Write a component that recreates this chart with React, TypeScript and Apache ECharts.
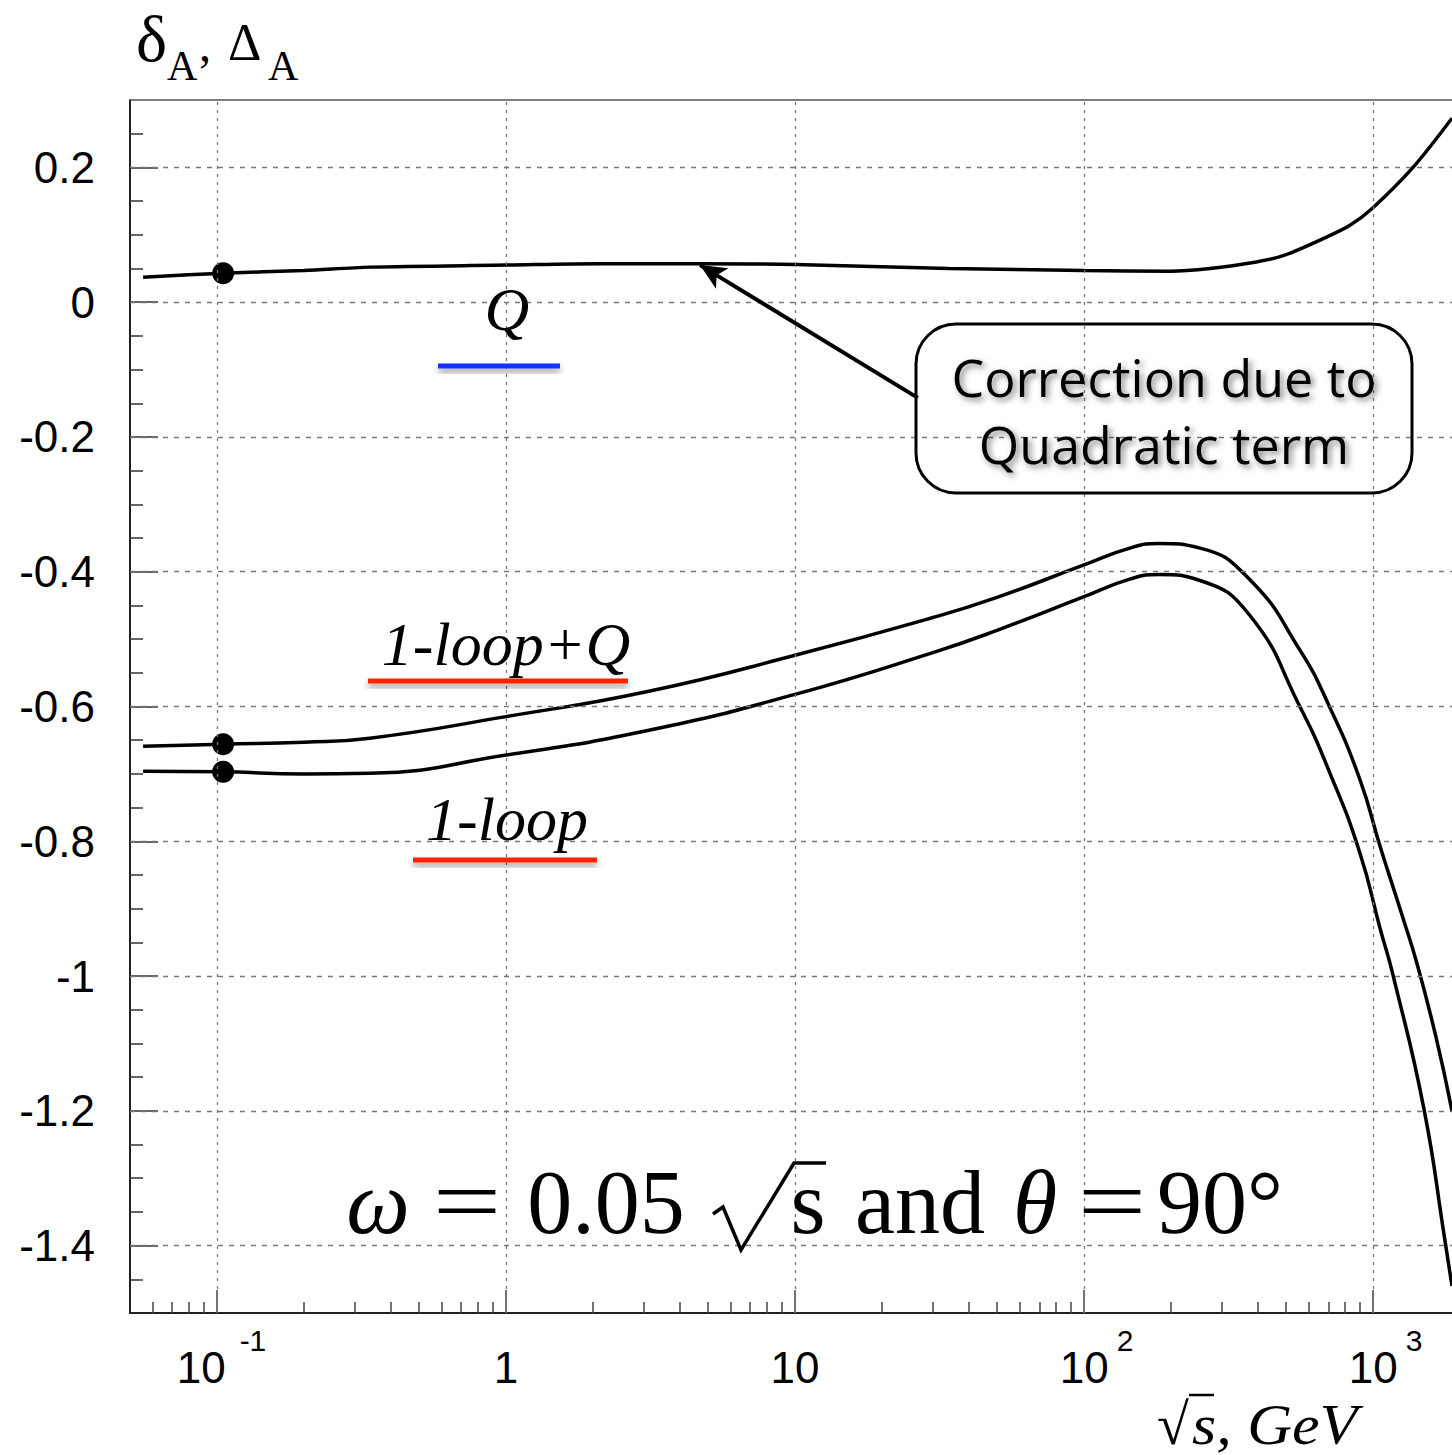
import React, { useEffect, useRef } from "react";
import * as echarts from "echarts";

// ---- axis ranges / ticks ----
const X_MIN = 0.05;
const X_MAX = 1876; // right edge of the visible frame
const Y_MIN = -1.5;
const Y_MAX = 0.3;
const X_DECADES = [0.1, 1, 10, 100, 1000];
const Y_MAJOR = [-1.4, -1.2, -1, -0.8, -0.6, -0.4, -0.2, 0, 0.2];

// ---- curve "Q" (correction due to quadratic term) ----
const Q_S = [0.0555, 0.105, 0.2, 0.338, 1, 2.1, 4.7, 10, 34, 100, 199, 273, 375, 489, 694, 832, 993, 1375, 1876];
const Q_VAL = [0.037, 0.043, 0.047, 0.052, 0.055, 0.057, 0.057, 0.056, 0.05, 0.047, 0.046, 0.05, 0.058, 0.069, 0.097, 0.114, 0.139, 0.2, 0.273];

// ---- curve "1-loop+Q" ----
const LOOPQ_S = [0.0555, 0.105, 0.2, 0.338, 1, 3.15, 10, 30, 50, 100, 144, 182, 252, 375, 558, 708, 900, 1062, 1250, 1427, 1650, 1876];
const LOOPQ_VAL = [-0.659, -0.656, -0.653, -0.647, -0.615, -0.577, -0.524, -0.468, -0.438, -0.39, -0.365, -0.358, -0.365, -0.412, -0.516, -0.601, -0.708, -0.81, -0.905, -0.985, -1.09, -1.2];

// ---- curve "1-loop" ----
const LOOP_S = [0.0555, 0.105, 0.2, 0.338, 1, 3.15, 10, 30, 50, 100, 144, 182, 252, 375, 558, 708, 900, 1062, 1175, 1500, 1770, 1876];
const LOOP_VAL = [-0.696, -0.697, -0.7, -0.699, -0.672, -0.635, -0.582, -0.52, -0.487, -0.437, -0.411, -0.404, -0.413, -0.465, -0.6, -0.698, -0.817, -0.932, -1.0, -1.197, -1.39, -1.46];

// ---- marked points ----
const DOT_S = 0.105;
const DOT_VAL = [0.043, -0.656, -0.697];

// ---- arrow (tail, head) in data units ----
const ARROW_FROM: [number, number] = [26.6, -0.142];
const ARROW_TO: [number, number] = [4.69, 0.055];

const lg = (v: number) => Math.log10(v);

function minorX(): number[] {
  const out: number[] = [];
  for (let e = -2; e <= 3; e++) {
    for (let k = 2; k <= 9; k++) {
      const v = k * Math.pow(10, e);
      if (v > X_MIN + 1e-9 && v < X_MAX - 1e-9) out.push(lg(v));
    }
  }
  return out;
}
function minorY(): number[] {
  const out: number[] = [];
  for (let i = -29; i <= 5; i++) {
    if (i % 4 === 0) continue;
    out.push(Math.round(i * 5) / 100);
  }
  return out;
}

const SERIF = "Liberation Serif";
const SANS = "Liberation Sans";

export default function App() {
  const ref = useRef<HTMLDivElement>(null);
  useEffect(() => {
    if (!ref.current) return;
    const chart = echarts.init(ref.current, undefined, { renderer: "svg" });
    const pairs = (s: number[], v: number[]) => s.map((x, i) => [lg(x), v[i]]);

    const vLines = X_DECADES.map((d) => ({
      xAxis: lg(d),
      lineStyle: { color: "#777", width: 1.3, type: [3, 5] as any },
    }));
    const hLines = Y_MAJOR.map((y) => ({
      yAxis: y,
      lineStyle: { color: "#777", width: 1.3, type: [5, 6] as any },
    }));

    const xLabelFmt = (v: number) => {
      const e = Math.round(v);
      if (e === 0) return "{b|1}";
      if (e === 1) return "{b|10}";
      if (e < 0) return "{pn|}{b|10}{sn|" + e + "}";
      return "{pp|}{b|10}{sp|" + e + "}";
    };

    const serifText = (
      text: string,
      x: number,
      y: number,
      size: number,
      opts: any = {}
    ) => ({
      type: "text",
      x,
      y,
      z: 50,
      scaleX: opts.scaleX || 1,
      originX: 0,
      originY: 0,
      style: {
        text,
        fontFamily: SERIF,
        fontSize: size,
        fontStyle: opts.italic ? "italic" : "normal",
        fill: "#000",
        align: opts.align || "left",
        verticalAlign: "middle",
      },
    });

    const underline = (x1: number, x2: number, y: number, color: string) => ({
      type: "rect",
      z: 50,
      shape: { x: x1, y: y - 2.5, width: x2 - x1, height: 5 },
      style: {
        fill: color,
        shadowBlur: 6,
        shadowColor: "rgba(0,0,0,0.4)",
        shadowOffsetY: 4,
      },
    });

    const boxText = (text: string, y: number) => ({
      type: "text",
      x: 1164,
      y,
      z: 50,
      style: {
        text,
        fontFamily: "Open Sans",
        fontSize: 52,
        fill: "#000",
        align: "center",
        verticalAlign: "middle",
        textShadowBlur: 6,
        textShadowColor: "rgba(0,0,0,0.5)",
        textShadowOffsetX: 3,
        textShadowOffsetY: 3,
      },
    });

    const curve = (name: string, s: number[], v: number[], smooth: number) => ({
      type: "line",
      name,
      data: pairs(s, v),
      smooth,
      symbol: "none",
      lineStyle: { color: "#000", width: 3.5 },
      z: 3,
    });

    const option: any = {
      animation: false,
      backgroundColor: "#fff",
      textStyle: { fontFamily: SANS },
      grid: {
        left: 130,
        top: 100,
        right: 0,
        bottom: 142,
        show: false,
        containLabel: false,
      },
      xAxis: [
        {
          type: "value",
          position: "bottom",
          min: lg(X_MIN),
          max: lg(X_MAX),
          axisLine: { show: true, onZero: false, lineStyle: { color: "#222", width: 2 } },
          axisTick: {
            show: true,
            inside: true,
            length: 23,
            customValues: X_DECADES.map(lg),
            lineStyle: { color: "#444", width: 1.5 },
          },
          axisLabel: {
            show: true,
            customValues: X_DECADES.map(lg),
            formatter: xLabelFmt,
            margin: 12,
            color: "#000",
            rich: {
              b: { fontSize: 44, fontFamily: SANS, lineHeight: 64, verticalAlign: "bottom", color: "#000" },
              sp: { fontSize: 30, fontFamily: SANS, lineHeight: 64, verticalAlign: "top", padding: [0, 0, 0, 8], color: "#000" },
              sn: { fontSize: 30, fontFamily: SANS, lineHeight: 64, verticalAlign: "top", padding: [0, 0, 0, 14], color: "#000" },
              pp: { width: 25, lineHeight: 64 },
              pn: { width: 9, lineHeight: 64 },
            },
          },
          splitLine: { show: false },
        },
        {
          type: "value",
          position: "bottom",
          min: lg(X_MIN),
          max: lg(X_MAX),
          axisLine: { show: false, onZero: false },
          axisTick: {
            show: true,
            inside: true,
            length: 11,
            customValues: minorX(),
            lineStyle: { color: "#444", width: 1.5 },
          },
          axisLabel: { show: false },
          splitLine: { show: false },
        },
        {
          type: "value",
          position: "top",
          min: lg(X_MIN),
          max: lg(X_MAX),
          axisLine: { show: true, onZero: false, lineStyle: { color: "#555", width: 1.5 } },
          axisTick: { show: false },
          axisLabel: { show: false },
          splitLine: { show: false },
        },
      ],
      yAxis: [
        {
          type: "value",
          position: "left",
          min: Y_MIN,
          max: Y_MAX,
          axisLine: { show: true, onZero: false, lineStyle: { color: "#222", width: 2 } },
          axisTick: {
            show: true,
            inside: true,
            length: 28,
            customValues: Y_MAJOR,
            lineStyle: { color: "#333", width: 1.5 },
          },
          axisLabel: {
            show: true,
            customValues: Y_MAJOR,
            formatter: (v: number) => String(Math.round(v * 10) / 10),
            fontSize: 44,
            fontFamily: SANS,
            color: "#000",
            margin: 35,
          },
          splitLine: { show: false },
        },
        {
          type: "value",
          position: "left",
          min: Y_MIN,
          max: Y_MAX,
          axisLine: { show: false, onZero: false },
          axisTick: {
            show: true,
            inside: true,
            length: 13,
            customValues: minorY(),
            lineStyle: { color: "#333", width: 1.5 },
          },
          axisLabel: { show: false },
          splitLine: { show: false },
        },
      ],
      series: [
        {
          type: "line",
          name: "grid",
          data: [[lg(1), 0]],
          symbol: "none",
          lineStyle: { width: 0, opacity: 0 },
          silent: true,
          z: 1,
          markLine: {
            silent: true,
            animation: false,
            symbol: ["none", "none"],
            label: { show: false },
            data: [...vLines, ...hLines],
          },
        },
        curve("Q", Q_S, Q_VAL, 0.3),
        curve("1-loop+Q", LOOPQ_S, LOOPQ_VAL, 0.5),
        curve("1-loop", LOOP_S, LOOP_VAL, 0.5),
        {
          type: "scatter",
          name: "points",
          data: DOT_VAL.map((v) => [lg(DOT_S), v]),
          symbol: "circle",
          symbolSize: 22,
          itemStyle: { color: "#000", opacity: 1 },
          z: 4,
          markLine: {
            silent: true,
            animation: false,
            symbol: ["none", "arrow"],
            symbolSize: [18, 26],
            label: { show: false },
            lineStyle: { color: "#000", width: 4, type: "solid" },
            data: [
              [
                { coord: [lg(ARROW_FROM[0]), ARROW_FROM[1]] },
                { coord: [lg(ARROW_TO[0]), ARROW_TO[1]] },
              ],
            ],
          },
        },
      ],
      graphic: [
        // y-axis title  δ_A, Δ_A
        serifText("δ", 136, 38, 66),
        serifText("A", 167, 66, 42),
        serifText(",", 199, 44, 48),
        serifText("Δ", 228, 42, 52),
        serifText("A", 268, 66, 42),
        // x-axis title √s, GeV
        serifText("√", 1157, 1424, 58),
        serifText("s, GeV", 1192, 1424, 58, { italic: true, scaleX: 1.07 }),
        {
          type: "line",
          z: 50,
          shape: { x1: 1189, y1: 1395, x2: 1214, y2: 1395 },
          style: { stroke: "#000", lineWidth: 2.5 },
        },
        // curve labels
        serifText("Q", 507, 309, 62, { italic: true, align: "center" }),
        underline(438, 560, 366, "#1432ff"),
        serifText("1-loop+Q", 506, 644, 62, { italic: true, align: "center" }),
        underline(368, 628, 681, "#ff2200"),
        serifText("1-loop", 507, 819, 62, { italic: true, align: "center" }),
        underline(413, 597, 860, "#ff2200"),
        // annotation box
        {
          type: "rect",
          z: 50,
          shape: { x: 916, y: 324, width: 496, height: 169, r: 40 },
          style: { fill: "none", stroke: "#000", lineWidth: 3 },
        },
        boxText("Correction due to", 376),
        boxText("Quadratic term", 443),
        // formula  ω = 0.05 √s and θ = 90°
        serifText("ω", 378, 1202, 90, { italic: true, align: "center" }),
        serifText("=", 467, 1202, 90, { align: "center", scaleX: 1.35 }),
        serifText("0.05", 606, 1202, 90, { align: "center" }),
        {
          type: "polyline",
          z: 50,
          shape: {
            points: [
              [713, 1214],
              [723, 1207],
              [741, 1250],
              [794, 1163],
              [826, 1163],
            ],
          },
          style: { stroke: "#000", lineWidth: 3.5, fill: "none" },
        },
        serifText("s", 808, 1202, 90, { align: "center" }),
        serifText("and", 920, 1202, 90, { align: "center" }),
        serifText("θ", 1035, 1202, 90, { italic: true, align: "center" }),
        serifText("=", 1112, 1202, 90, { align: "center", scaleX: 1.35 }),
        serifText("90°", 1220, 1202, 90, { align: "center" }),
      ],
    };
    chart.setOption(option);
    return () => chart.dispose();
  }, []);
  return (
    <div
      ref={ref}
      style={{ position: "fixed", left: 0, top: 0, width: 1452, height: 1455, background: "#fff" }}
    />
  );
}
